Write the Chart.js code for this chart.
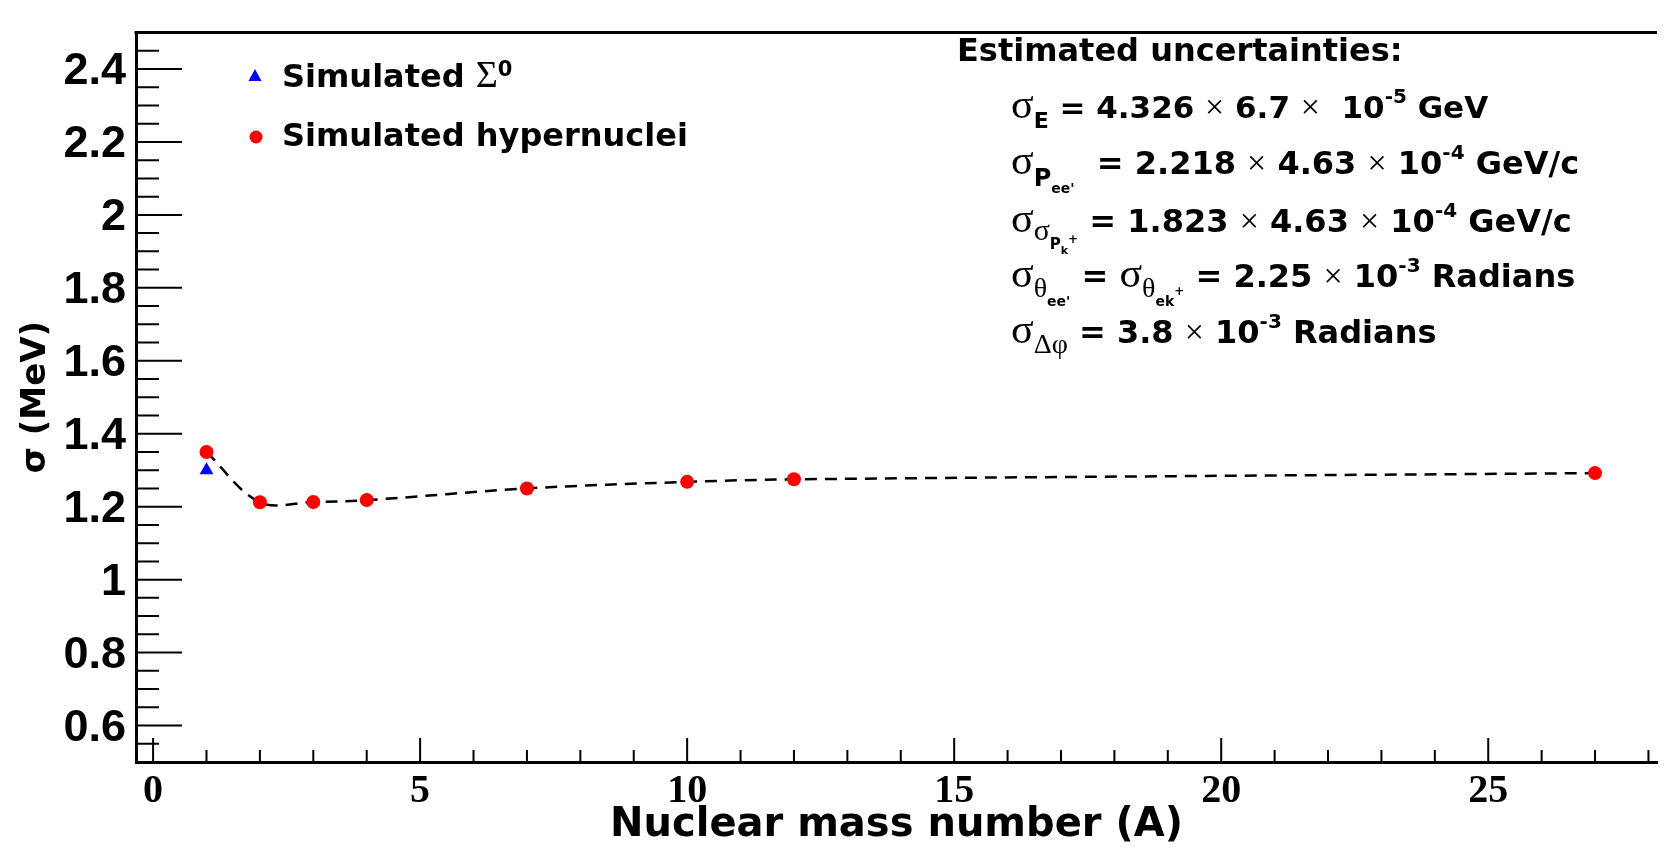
<!DOCTYPE html>
<html><head><meta charset="utf-8">
<script src="https://cdn.jsdelivr.net/npm/chart.js@4.4.1/dist/chart.umd.min.js"></script>
<style>html,body{margin:0;padding:0;background:#fff;} #wrap{position:relative;width:1665px;height:849px;}</style>
</head><body><div id="wrap"><canvas id="c" width="1665" height="849"></canvas></div>
<script>
// ---- data ----
const massNumbers = [1, 2, 3, 4, 7, 10, 12, 27];
const sigmaHypernuclei = [1.35, 1.212, 1.213, 1.218, 1.25, 1.268, 1.275, 1.292];
const sigma0Mass = [1];
const sigma0Values = [1.30];
const xMajorTicks = [0, 5, 10, 15, 20, 25];
const xTickLabels = ['0', '5', '10', '15', '20', '25'];
const yMajorTicks = [0.6, 0.8, 1.0, 1.2, 1.4, 1.6, 1.8, 2.0, 2.2, 2.4];
const yTickLabels = ['0.6', '0.8', '1', '1.2', '1.4', '1.6', '1.8', '2', '2.2', '2.4'];
const xTitle = 'Nuclear mass number (A)';
const yTitle = 'σ (MeV)';
const legendSigma0 = 'Simulated ';
const legendHyper = 'Simulated hypernuclei';
const annotationTitle = 'Estimated uncertainties:';

const SANS = '"DejaVu Sans"';
const B = s => `bold ${s}px ${SANS}`;
const SER = s => `${s}px "Liberation Serif"`;
const M = 32, M1 = 31;
const SIG = {t:'σ', f:SER(42)};
const X = {t:'×', f:SER(34)};
const SUP = t => ({t, f:B(20), dy:-15});

const annotationLines = [
  [SIG,{t:'E',f:B(22),dy:10},{t:' = 4.326 ',f:B(M1)},X,{t:' 6.7 ',f:B(M1)},X,{t:'  10',f:B(M1)},SUP('-5'),{t:' GeV',f:B(M1)}],
  [SIG,{t:'P',f:B(24),dy:12},{t:"ee'",f:B(14),dy:19},{t:'  = 2.218 ',f:B(M)},X,{t:' 4.63 ',f:B(M)},X,{t:' 10',f:B(M)},SUP('-4'),{t:' GeV/c',f:B(M)}],
  [SIG,{t:'σ',f:SER(30),dy:8},{t:'P',f:B(15),dy:17},{t:'k',f:B(11),dy:22},{t:'+',f:B(12),dy:11},{t:' = 1.823 ',f:B(M)},X,{t:' 4.63 ',f:B(M)},X,{t:' 10',f:B(M)},SUP('-4'),{t:' GeV/c',f:B(M)}],
  [SIG,{t:'θ',f:SER(28),dy:10},{t:"ee'",f:B(14),dy:19},{t:' = ',f:B(M)},{t:'σ',f:SER(42)},{t:'θ',f:SER(28),dy:10},{t:'ek',f:B(14),dy:19},{t:'+',f:B(12),dy:8},{t:' = 2.25 ',f:B(M)},X,{t:' 10',f:B(M)},SUP('-3'),{t:' Radians',f:B(M)}],
  [SIG,{t:'Δφ',f:SER(28),dy:10},{t:' = 3.8 ',f:B(M)},X,{t:' 10',f:B(M)},SUP('-3'),{t:' Radians',f:B(M)}]
];
const annotationBaselines = [118, 174, 232, 287, 343];

function drawRich(ctx, x, y, segs) {
  for (const s of segs) {
    ctx.font = s.f;
    ctx.fillText(s.t, x, y + (s.dy || 0));
    x += ctx.measureText(s.t).width;
  }
  return x;
}

const decor = {
  id: 'rootDecor',
  beforeDatasetsDraw(chart) {
    const {ctx, chartArea: a, scales: {x, y}} = chart;
    ctx.save();
    ctx.strokeStyle = '#000';
    ctx.lineWidth = 2;
    ctx.beginPath();
    for (let v = 0; v <= 28; v++) {
      const px = x.getPixelForValue(v);
      const len = (v % 5 === 0) ? 24 : 12;
      ctx.moveTo(px, a.bottom); ctx.lineTo(px, a.bottom - len);
    }
    for (let k = 11; k <= 49; k++) {
      const py = y.getPixelForValue(k * 0.05);
      const len = (k % 4 === 0) ? 46 : 23;
      ctx.moveTo(a.left, py); ctx.lineTo(a.left + len, py);
    }
    ctx.stroke();
    ctx.lineWidth = 3;
    ctx.beginPath();
    ctx.moveTo(a.left - 1.5, a.top); ctx.lineTo(a.right, a.top);
    ctx.stroke();
    ctx.restore();
  },
  afterDraw(chart) {
    const {ctx} = chart;
    ctx.save();
    ctx.textBaseline = 'alphabetic';
    ctx.textAlign = 'left';
    // legend markers
    ctx.fillStyle = '#0000ff';
    ctx.beginPath();
    ctx.moveTo(255, 69); ctx.lineTo(261.5, 81); ctx.lineTo(248.5, 81); ctx.closePath(); ctx.fill();
    ctx.fillStyle = '#ff0000';
    ctx.beginPath(); ctx.arc(256, 137, 6.5, 0, Math.PI * 2); ctx.fill();
    ctx.fillStyle = '#000';
    drawRich(ctx, 282, 87, [{t:legendSigma0, f:B(32)}, {t:'Σ', f:SER(38)}, {t:'0', f:B(21), dy:-11}]);
    drawRich(ctx, 282, 146, [{t:legendHyper, f:B(32)}]);
    // annotation
    drawRich(ctx, 957, 61, [{t:annotationTitle, f:B(32)}]);
    annotationLines.forEach((segs, i) => drawRich(ctx, 1011, annotationBaselines[i], segs));
    ctx.restore();
  }
};

new Chart(document.getElementById('c'), {
  type: 'scatter',
  data: {
    datasets: [
      {
        label: 'Simulated hypernuclei',
        data: massNumbers.map((m, i) => ({x: m, y: sigmaHypernuclei[i]})),
        showLine: true,
        tension: 0.35,
        borderColor: '#000',
        borderWidth: 2.5,
        borderDash: [12, 8],
        pointRadius: 7,
        pointBorderWidth: 0,
        pointBackgroundColor: '#ff0000',
        pointBorderColor: '#ff0000',
        pointStyle: 'circle'
      },
      {
        label: 'Simulated Σ0',
        data: sigma0Mass.map((m, i) => ({x: m, y: sigma0Values[i]})),
        showLine: false,
        pointStyle: 'triangle',
        pointRadius: 8,
        pointBorderWidth: 0,
        pointBackgroundColor: '#0000ff',
        pointBorderColor: '#0000ff'
      }
    ]
  },
  options: {
    responsive: false,
    animation: false,
    devicePixelRatio: 1,
    layout: {padding: {top: 6, left: 0, right: 0, bottom: 0}},
    plugins: {legend: {display: false}, tooltip: {enabled: false}},
    scales: {
      x: {
        type: 'linear', min: -0.32, max: 28.16,
        afterBuildTicks: s => { s.ticks = xMajorTicks.map(v => ({value: v})); },
        afterFit: s => { s.height = 87; },
        grid: {display: false, drawTicks: false},
        border: {display: true, color: '#000', width: 3},
        ticks: {
          autoSkip: false, maxRotation: 0, padding: 10, color: '#000',
          font: {family: 'Liberation Serif', weight: 'bold', size: 40, lineHeight: 1},
          callback: v => xTickLabels[xMajorTicks.indexOf(v)]
        },
        title: {display: true, text: xTitle, color: '#000',
          font: {family: 'DejaVu Sans', weight: 'bold', size: 40, lineHeight: 1},
          padding: {top: 0, bottom: 3}}
      },
      y: {
        type: 'linear', min: 0.5, max: 2.5,
        afterBuildTicks: s => { s.ticks = yMajorTicks.map(v => ({value: v})); },
        afterFit: s => { s.width = 136; },
        grid: {display: false, drawTicks: false},
        border: {display: true, color: '#000', width: 3},
        ticks: {
          autoSkip: false, padding: 10, labelOffset: 3, color: '#000',
          font: {family: 'Liberation Sans', weight: 'bold', size: 45, lineHeight: 1},
          callback: v => yTickLabels[yMajorTicks.findIndex(t => Math.abs(t - v) < 1e-9)]
        },
        title: {display: true, text: yTitle, color: '#000',
          font: {family: 'DejaVu Sans', weight: 'bold', size: 34, lineHeight: 1},
          padding: {top: 19, bottom: 0}}
      }
    }
  },
  plugins: [decor]
});
</script></body></html>
